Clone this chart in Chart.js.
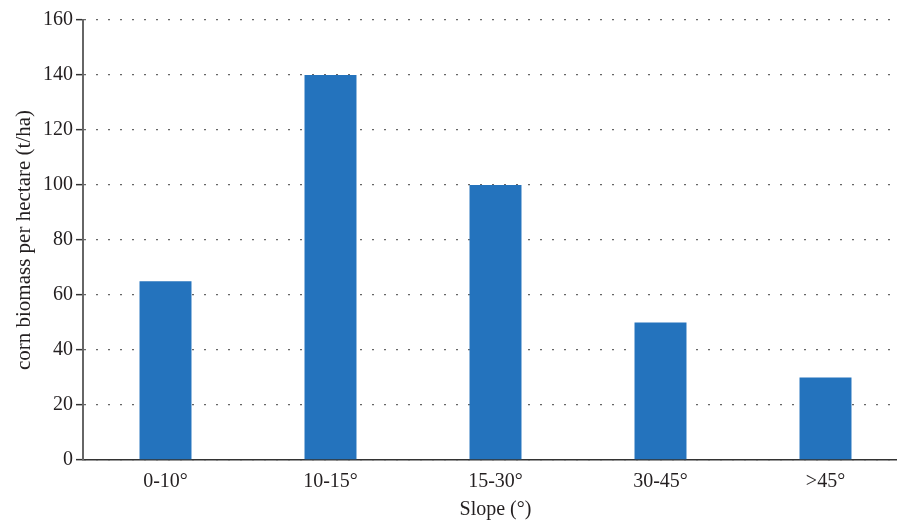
<!DOCTYPE html>
<html>
<head>
<meta charset="utf-8">
<script src="https://cdn.jsdelivr.net/npm/chart.js@4"></script>
<style>
  html, body { margin: 0; padding: 0; background: #fff; }
  #wrap { width: 897px; height: 523px; overflow: hidden; position: relative; }
  canvas { display: block; }
</style>
</head>
<body>
<div id="wrap"><canvas id="c" width="908" height="523"></canvas></div>
<script>
const categories = ['0-10°', '10-15°', '15-30°', '30-45°', '>45°'];
const biomass = [65, 140, 100, 50, 30];
const yMin = 0, yMax = 160, yStep = 20;
const xTitle = 'Slope (°)';
const yTitle = 'corn biomass per hectare (t/ha)';

const FONT = "'Liberation Serif', 'Times New Roman', serif";
const TXT = '#231f20';

new Chart(document.getElementById('c'), {
  type: 'bar',
  data: {
    labels: categories,
    datasets: [{
      data: biomass,
      backgroundColor: '#2473bd',
      borderWidth: 0,
      barPercentage: 0.315,
      categoryPercentage: 1
    }]
  },
  options: {
    responsive: false,
    devicePixelRatio: 1,
    animation: false,
    events: [],
    layout: { padding: { top: 20, right: 0, bottom: 0, left: 0 } },
    plugins: { legend: { display: false }, tooltip: { enabled: false } },
    scales: {
      x: {
        offset: true,
        grid: { display: false },
        border: { display: true, color: '#333', width: 1.5 },
        ticks: { color: TXT, font: { family: FONT, size: 20 }, padding: 2, maxRotation: 0 },
        title: { display: true, text: xTitle, color: TXT, font: { family: FONT, size: 20 }, padding: { top: 0, bottom: 1 } },
        afterFit: (s) => { s.height = 63; }
      },
      y: {
        min: yMin, max: yMax,
        ticks: { stepSize: yStep, color: TXT, font: { family: FONT, size: 20 }, padding: 3 },
        grid: {
          color: '#666', lineWidth: 1.3,
          drawTicks: true, tickLength: 7, tickColor: '#333', tickWidth: 1.5, tickBorderDash: []
        },
        border: { display: true, color: '#666', width: 2, dash: [2, 10] },
        title: { display: true, text: yTitle, color: TXT, font: { family: FONT, size: 21 }, padding: { top: 12, bottom: 0 } },
        afterFit: (s) => { s.width = 83; }
      }
    }
  }
});
</script>
</body>
</html>
